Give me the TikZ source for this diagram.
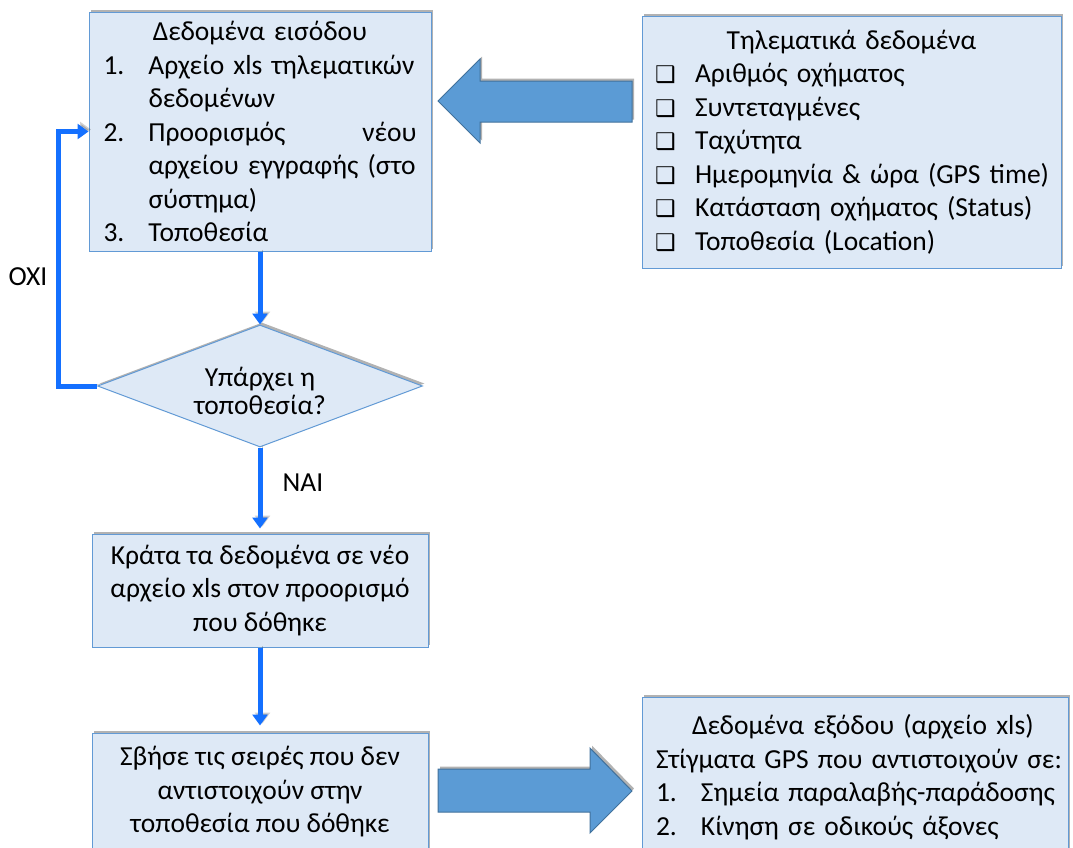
\documentclass[tikz,border=0pt]{standalone}
\usepackage{fontspec}
\setmainfont{Carlito}
\newfontfamily\symfont{DejaVu Sans}
\usetikzlibrary{arrows.meta,shapes.geometric,shadows}

\definecolor{boxfill}{RGB}{222,233,246}
\definecolor{boxline}{RGB}{98,154,213}
\definecolor{flow}{RGB}{20,112,255}
\definecolor{blockfill}{RGB}{91,155,213}
\definecolor{blockline}{RGB}{65,113,156}

% checkbox bullet and numbered-item label
\newcommand\chkbox{\makebox[40pt][l]{\symfont\fontsize{23}{23}\selectfont ❑}}
\newcommand\numitem[1]{\makebox[45pt][l]{#1}}

\tikzset{
  softshadow/.style={drop shadow={shadow xshift=2pt,shadow yshift=2.5pt,opacity=.3,fill=black}},
  infobox/.style={draw=boxline, line width=1pt, fill=boxfill, softshadow,
    inner ysep=0pt, font=\fontsize{27.5}{33.5}\selectfont, text=black},
  decision/.style={diamond, draw=boxline, line width=1pt, fill=boxfill, softshadow,
    inner sep=0pt, aspect=2.66, minimum width=325pt, minimum height=122pt,
    align=center, font=\fontsize{27.5}{28}\selectfont},
  flowline/.style={draw=flow, line width=5pt, -{Triangle[width=15pt,length=11pt]},
    preaction={draw=black, opacity=.18, transform canvas={xshift=2.5pt,yshift=2pt}}},
  block/.style={fill=blockfill, draw=blockline, line width=1pt, softshadow},
  lbl/.style={font=\fontsize{27.5}{28}\selectfont}
}

\begin{document}
\begin{tikzpicture}[x=1pt,y=-1pt]
\useasboundingbox (0,0) rectangle (1073,847);

% input data
\node[infobox, text width=313pt, inner xsep=14.5pt, minimum height=239pt, align=left] (in) at (260,131.5) {%
\makebox[313pt]{Δεδομένα εισόδου}\\
\numitem{1.}\mbox{Αρχείο xls τηλεματικών}\\
\numitem{}δεδομένων\\
\numitem{2.}\makebox[268pt]{Προορισμός\hfill νέου}\\
\numitem{}\mbox{αρχείου εγγραφής (στο}\\
\numitem{}σύστημα)\\
\numitem{3.}Τοποθεσία};

% telematics fields
\node[infobox, text width=393pt, inner xsep=13pt, minimum height=252pt, align=left] (tel) at (851.5,142) {%
\makebox[393pt]{Τηλεματικά δεδομένα}\\
\chkbox Αριθμός οχήματος\\
\chkbox Συντεταγμένες\\
\chkbox Ταχύτητα\\
\chkbox \mbox{Ημερομηνία \& ώρα (GPS time)}\\
\chkbox \mbox{Κατάσταση οχήματος (Status)}\\
\chkbox Τοποθεσία (Location)};

% decision (strut on the first line lowers the text a little)
\node[decision] (dia) at (260,386) {\rule{0pt}{30pt}Υπάρχει η\\ τοποθεσία?};

% processing steps
\node[infobox, minimum width=336pt, minimum height=113pt, align=center] (keep) at (260,590.5)
  {Κράτα τα δεδομένα σε νέο\\ αρχείο xls στον προορισμό\\ που δόθηκε};
\node[infobox, minimum width=336pt, minimum height=118pt, align=center] (del) at (260,792)
  {Σβήσε τις σειρές που δεν\\ αντιστοιχούν στην\\ τοποθεσία που δόθηκε};

% output data
\node[infobox, text width=398pt, inner xsep=14pt, minimum height=160pt, align=left] (out) at (855,777) {%
\hspace*{36pt}Δεδομένα εξόδου (αρχείο xls)\\
\mbox{Στίγματα GPS που αντιστοιχούν σε:}\\
\numitem{1.}\mbox{Σημεία παραλαβής-παράδοσης}\\
\numitem{2.}\mbox{Κίνηση σε οδικούς άξονες}};

% branch labels
\node[lbl] (no) at (28,277) {ΟΧΙ};
\node[lbl] (yes) at (303,483) {ΝΑΙ};

% flow connectors
\coordinate (bend) at (58,386);
\draw[flowline] (in.south) -- (dia.north);
\draw[flowline] (dia.west) -- (bend) |- (in.west);
\draw[flowline, shorten >=5pt] (dia.south) -- (keep.north);
\draw[flowline, shorten >=7pt] (keep.south) -- (del.north);

% block arrows
\filldraw[block] (438,101) -- (480,59) -- (480,81) -- (632,81) -- (632,122)
  -- (480,122) -- (480,143) -- cycle;
\filldraw[block] (438,769) -- (590,769) -- (590,748) -- (632,791) -- (590,833)
  -- (590,812) -- (438,812) -- cycle;
\end{tikzpicture}
\end{document}
